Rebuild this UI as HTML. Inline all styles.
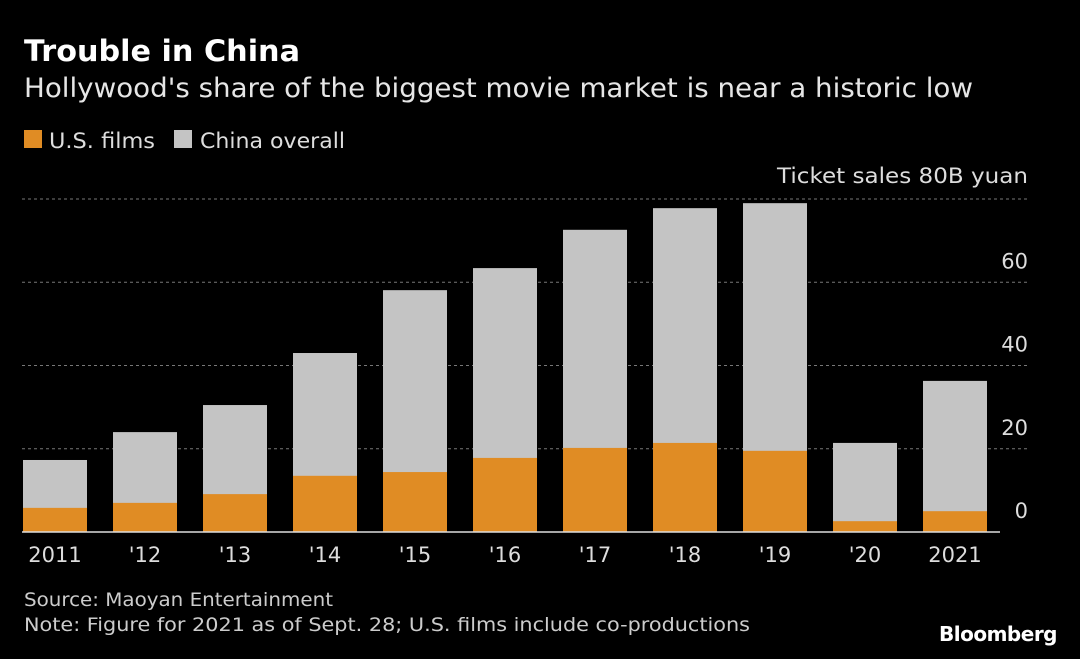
<!DOCTYPE html>
<html><head><meta charset="utf-8"><style>
body{margin:0;background:#000;width:1080px;height:655px;overflow:hidden;font-family:"DejaVu Sans","Liberation Sans",sans-serif;color:#ddd}
svg text{font-family:"DejaVu Sans","Liberation Sans",sans-serif}
</style></head><body>
<svg width="1080" height="655">
<text x="24" y="61" font-size="29" font-weight="bold" fill="#fff" textLength="276" lengthAdjust="spacingAndGlyphs">Trouble in China</text>
<text x="24" y="97" font-size="27" fill="#e6e6e6" textLength="949" lengthAdjust="spacingAndGlyphs">Hollywood's share of the biggest movie market is near a historic low</text>
<g>
<rect x="24" y="130" width="18" height="18" fill="#e08c24"/>
<text x="49" y="148" font-size="21" fill="#ddd" textLength="106" lengthAdjust="spacingAndGlyphs">U.S. films</text>
<rect x="174" y="130" width="18" height="18" fill="#c4c4c4"/>
<text x="200" y="148" font-size="21" fill="#ddd" textLength="145" lengthAdjust="spacingAndGlyphs">China overall</text>
</g>
<g id="grid"></g><g id="bars"></g><g id="labels"></g>
<line x1="22" x2="1000" y1="532" y2="532" stroke="#ddd" stroke-width="1.5"/>
<text x="24" y="606" font-size="19" fill="#ccc" textLength="309" lengthAdjust="spacingAndGlyphs">Source: Maoyan Entertainment</text>
<text x="24" y="631" font-size="19" fill="#ccc" textLength="726" lengthAdjust="spacingAndGlyphs">Note: Figure for 2021 as of Sept. 28; U.S. films include co-productions</text>
<text x="1057" y="641" font-size="20" font-weight="bold" fill="#fff" text-anchor="end" letter-spacing="-0.5">Bloomberg</text>
</svg>
<script>
const categories=["2011","'12","'13","'14","'15","'16","'17","'18","'19","'20","2021"];
const chinaTotal=[17.3,24.0,30.5,43.0,58.1,63.4,72.6,77.8,79.0,21.4,36.3];
const usFilms=[5.8,7.0,9.1,13.5,14.4,17.8,20.2,21.4,19.5,2.6,5.0];
const yTicks=[0,20,40,60,80];
const NS="http://www.w3.org/2000/svg";
const y=v=>532-v*4.1625;
const x=i=>23+i*90;
function mk(t,a,p){const e=document.createElementNS(NS,t);for(const k in a)e.setAttribute(k,a[k]);p.appendChild(e);return e;}
const g=document.getElementById('grid'),b=document.getElementById('bars'),l=document.getElementById('labels');
yTicks.forEach(t=>{
 if(t>0){const ln=mk('line',{x1:22,x2:1029,y1:y(t),y2:y(t),stroke:'#777','stroke-dasharray':'3,3'},g);
 
 }
 const tx=mk('text',{x:1028,y:t===80?183:y(t)-14,'font-size':21,fill:'#ddd','text-anchor':'end'},l);
 tx.textContent=t===80?'Ticket sales  80B yuan':String(t);
 if(t===80){tx.setAttribute('textLength','251');tx.setAttribute('lengthAdjust','spacingAndGlyphs');}
 
 
});
categories.forEach((c,i)=>{
 const r1=mk('rect',{x:x(i),y:y(chinaTotal[i]),width:64,height:y(0)-y(chinaTotal[i]),fill:'#c4c4c4'},b);
 
 
 const r2=mk('rect',{x:x(i),y:y(usFilms[i]),width:64,height:y(0)-y(usFilms[i]),fill:'#e08c24'},b);
 
 
 const t=mk('text',{x:x(i)+32,y:562,'font-size':21,fill:'#ddd','text-anchor':'middle'},l);
 t.textContent=c;
 
 
});
</script>
</body></html>
